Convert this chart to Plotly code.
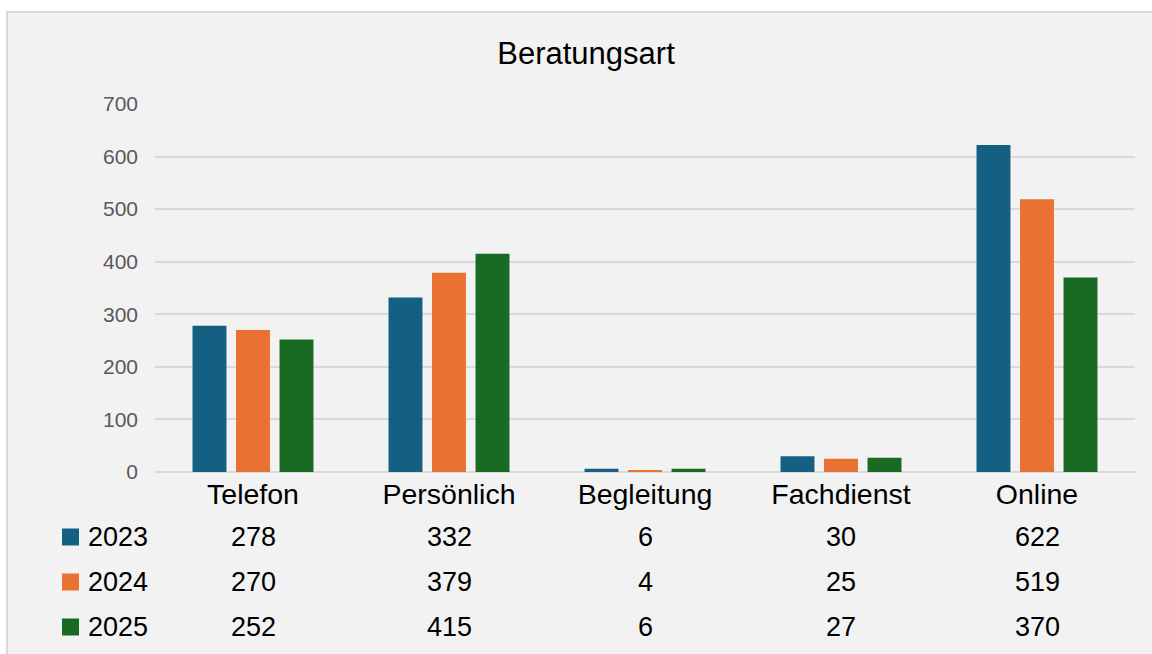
import plotly.graph_objects as go

categories = ["Telefon", "Persönlich", "Begleitung", "Fachdienst", "Online"]
years = ["2023", "2024", "2025"]
values_2023 = [278, 332, 6, 30, 622]
values_2024 = [270, 379, 4, 25, 519]
values_2025 = [252, 415, 6, 27, 370]
y_ticks = [0, 100, 200, 300, 400, 500, 600, 700]

series = [values_2023, values_2024, values_2025]
colors = ["#156082", "#E97132", "#196B24"]

W, H = 1152, 654
L, R, T, B = 155, 17, 104, 182
PW, PH = W - L - R, H - T - B


def px_x(sx):
    return (sx - L) / PW


def px_y(sy):
    return (H - B - sy) / PH


FONT = "Liberation Sans, Arial, sans-serif"

fig = go.Figure()
for year, vals, col in zip(years, series, colors):
    fig.add_trace(go.Bar(
        x=categories,
        y=vals,
        name=year,
        marker=dict(color=col, line=dict(width=0)),
    ))

# Datentabelle unter dem Diagramm
row_y = [537, 582, 627]
for year, vals, col, ry in zip(years, series, colors, row_y):
    for cat, v in zip(categories, vals):
        fig.add_annotation(
            x=cat, xref="x", y=px_y(ry), yref="paper",
            text=str(v), showarrow=False,
            font=dict(size=27, color="#000000", family=FONT),
            xanchor="center", yanchor="middle",
        )
    fig.add_annotation(
        x=px_x(86), xref="paper", y=px_y(ry), yref="paper",
        text=year, showarrow=False,
        font=dict(size=27, color="#000000", family=FONT),
        xanchor="left", yanchor="middle",
    )
    fig.add_shape(
        type="rect", xref="paper", yref="paper",
        x0=px_x(62), x1=px_x(79), y0=px_y(ry + 8.5), y1=px_y(ry - 8.5),
        fillcolor=col, line=dict(width=0),
    )

# Rahmen des Diagrammbereichs
fig.add_shape(
    type="rect", xref="paper", yref="paper", layer="below",
    x0=px_x(7), x1=px_x(1170), y0=px_y(670), y1=px_y(12),
    fillcolor="#F2F2F2", line=dict(color="#D9D9D9", width=2),
)

fig.update_layout(
    width=W, height=H,
    margin=dict(l=L, r=R, t=T, b=B),
    paper_bgcolor="#FFFFFF",
    plot_bgcolor="rgba(0,0,0,0)",
    title=dict(
        text="Beratungsart", x=586 / W, xref="container", xanchor="center",
        y=1 - 53 / H, yanchor="middle",
        font=dict(size=31, color="#000000", family=FONT),
    ),
    showlegend=False,
    barmode="group",
    bargap=0.334,
    bargroupgap=0.22,
    font=dict(family=FONT),
    xaxis=dict(
        showgrid=False, showline=False, zeroline=False,
        tickfont=dict(size=28.5, color="#000000", family=FONT),
        ticklabelstandoff=2,
        fixedrange=True,
    ),
    yaxis=dict(
        range=[0, 700], tickvals=y_ticks,
        showgrid=True, gridcolor="#D9D9D9", gridwidth=1.5,
        zeroline=True, zerolinecolor="#D9D9D9", zerolinewidth=1.5,
        showline=False,
        tickfont=dict(size=21, color="#595959", family=FONT),
        ticklabelstandoff=16,
        fixedrange=True,
    ),
)

fig.write_html(
    "out.html",
    config={"displayModeBar": False},
    post_script="document.body.style.margin='0';document.body.style.overflow='hidden';",
)
